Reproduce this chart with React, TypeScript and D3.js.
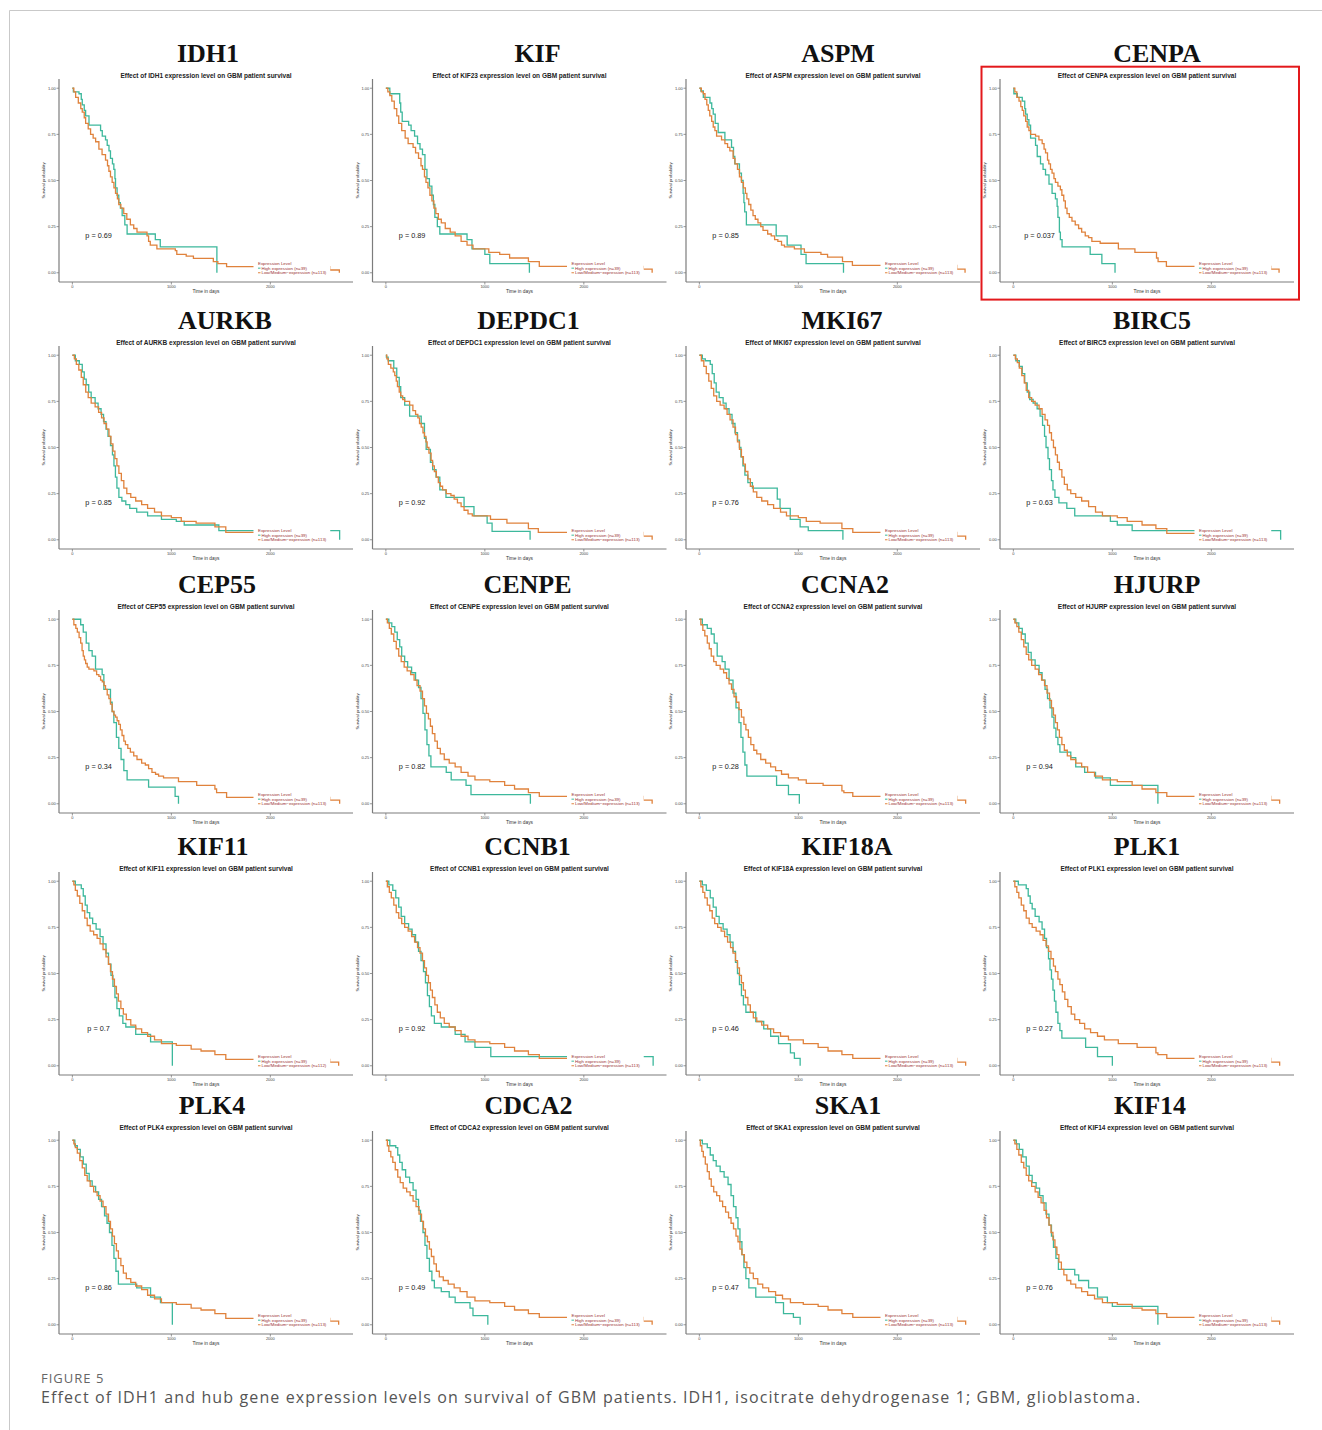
import * as d3 from 'd3';

// gene shown above each panel, and the gene named in the panel subtitle
const GENES = ['IDH1', 'KIF', 'ASPM', 'CENPA', 'AURKB', 'DEPDC1', 'MKI67', 'BIRC5', 'CEP55', 'CENPE', 'CCNA2', 'HJURP', 'KIF11', 'CCNB1', 'KIF18A', 'PLK1', 'PLK4', 'CDCA2', 'SKA1', 'KIF14'];
const SUBTITLE_GENES = ['IDH1', 'KIF23', 'ASPM', 'CENPA', 'AURKB', 'DEPDC1', 'MKI67', 'BIRC5', 'CEP55', 'CENPE', 'CCNA2', 'HJURP', 'KIF11', 'CCNB1', 'KIF18A', 'PLK1', 'PLK4', 'CDCA2', 'SKA1', 'KIF14'];
const P_VALUES = ['0.69', '0.89', '0.85', '0.037', '0.85', '0.92', '0.76', '0.63', '0.34', '0.82', '0.28', '0.94', '0.7', '0.92', '0.46', '0.27', '0.86', '0.49', '0.47', '0.76'];
const HIGH_N = [39, 39, 39, 39, 39, 39, 39, 39, 39, 39, 39, 39, 39, 39, 39, 39, 39, 39, 39, 39];
const LOW_N = [113, 113, 113, 113, 113, 113, 113, 113, 113, 113, 113, 113, 112, 113, 113, 113, 113, 113, 113, 113];

const X_TICKS = [0, 1000, 2000];
const Y_TICKS = [0, 0.25, 0.5, 0.75, 1];

// Kaplan-Meier steps: [day, survival from that day on]
const idh1High = [[0, 1], [10, 0.98], [67, 0.97], [90, 0.94], [100, 0.91], [120, 0.88], [134, 0.85], [168, 0.8], [285, 0.77], [302, 0.74], [335, 0.72], [352, 0.69], [370, 0.66], [385, 0.62], [405, 0.59], [419, 0.56], [430, 0.51], [436, 0.46], [452, 0.42], [469, 0.38], [485, 0.35], [503, 0.31], [530, 0.26], [553, 0.21], [838, 0.18], [888, 0.14], [1460, 0]];
const idh1Low = [[0, 1], [15, 0.98], [33, 0.95], [60, 0.92], [85, 0.89], [100, 0.87], [120, 0.84], [134, 0.81], [160, 0.78], [184, 0.75], [210, 0.73], [235, 0.71], [268, 0.67], [300, 0.64], [335, 0.61], [355, 0.58], [369, 0.55], [385, 0.52], [402, 0.49], [420, 0.46], [436, 0.43], [455, 0.4], [469, 0.37], [490, 0.35], [519, 0.32], [550, 0.29], [586, 0.26], [620, 0.24], [653, 0.22], [754, 0.2], [770, 0.17], [787, 0.15], [854, 0.13], [1040, 0.12], [1055, 0.1], [1150, 0.09], [1223, 0.078], [1424, 0.06], [1470, 0.05], [1558, 0.033], [2600, 0.015], [2697, 0]];

const kifHigh = [[0, 1], [40, 0.97], [130, 0.97], [140, 0.92], [150, 0.87], [165, 0.82], [230, 0.8], [255, 0.77], [290, 0.74], [320, 0.7], [345, 0.67], [370, 0.64], [395, 0.56], [415, 0.51], [440, 0.47], [465, 0.42], [480, 0.37], [495, 0.3], [520, 0.25], [545, 0.21], [800, 0.21], [820, 0.18], [870, 0.13], [1000, 0.1], [1050, 0.05], [1450, 0]];
const kifLow = [[0, 1], [20, 0.98], [40, 0.96], [60, 0.93], [85, 0.89], [110, 0.85], [130, 0.81], [160, 0.77], [195, 0.73], [225, 0.7], [275, 0.68], [300, 0.65], [330, 0.62], [355, 0.58], [370, 0.56], [390, 0.52], [405, 0.49], [425, 0.46], [445, 0.42], [465, 0.39], [485, 0.35], [505, 0.32], [530, 0.29], [560, 0.27], [600, 0.24], [650, 0.22], [700, 0.2], [760, 0.17], [820, 0.15], [880, 0.13], [1040, 0.11], [1150, 0.1], [1250, 0.08], [1440, 0.06], [1550, 0.035], [2600, 0.02], [2690, 0]];

const aspmHigh = [[0, 1], [15, 0.985], [40, 0.95], [107, 0.92], [125, 0.89], [140, 0.86], [160, 0.81], [190, 0.76], [258, 0.72], [325, 0.68], [345, 0.63], [358, 0.59], [405, 0.54], [425, 0.5], [442, 0.43], [450, 0.38], [458, 0.33], [475, 0.26], [776, 0.2], [887, 0.15], [1027, 0.1], [1078, 0.05], [1456, 0]];
const aspmLow = [[0, 1], [20, 0.98], [40, 0.97], [57, 0.94], [75, 0.91], [90, 0.88], [105, 0.85], [124, 0.82], [140, 0.79], [157, 0.77], [174, 0.74], [224, 0.72], [258, 0.7], [285, 0.68], [308, 0.66], [341, 0.62], [360, 0.59], [385, 0.56], [405, 0.52], [425, 0.49], [445, 0.46], [465, 0.43], [480, 0.4], [499, 0.37], [520, 0.34], [542, 0.31], [565, 0.29], [592, 0.27], [620, 0.25], [643, 0.23], [690, 0.21], [726, 0.2], [760, 0.18], [793, 0.17], [830, 0.15], [860, 0.14], [960, 0.13], [1061, 0.11], [1228, 0.1], [1295, 0.085], [1446, 0.06], [1546, 0.04], [2600, 0.02], [2684, 0]];

const cenpaHigh = [[0, 1], [5, 0.97], [40, 0.95], [90, 0.93], [115, 0.89], [124, 0.86], [140, 0.83], [157, 0.8], [174, 0.73], [224, 0.69], [241, 0.63], [274, 0.59], [300, 0.56], [325, 0.53], [360, 0.48], [391, 0.43], [425, 0.4], [442, 0.36], [450, 0.3], [465, 0.22], [475, 0.18], [492, 0.14], [776, 0.1], [894, 0.05], [1027, 0]];
const cenpaLow = [[0, 1], [15, 0.98], [35, 0.95], [57, 0.93], [75, 0.9], [90, 0.88], [105, 0.85], [124, 0.82], [140, 0.79], [157, 0.77], [174, 0.75], [224, 0.74], [258, 0.72], [291, 0.7], [310, 0.67], [325, 0.65], [345, 0.61], [358, 0.59], [375, 0.56], [391, 0.54], [410, 0.51], [425, 0.49], [450, 0.47], [475, 0.45], [490, 0.42], [509, 0.39], [525, 0.35], [542, 0.32], [565, 0.3], [592, 0.28], [625, 0.26], [659, 0.24], [690, 0.22], [726, 0.2], [760, 0.19], [793, 0.17], [877, 0.16], [1061, 0.13], [1228, 0.11], [1446, 0.08], [1462, 0.06], [1546, 0.035], [2600, 0.02], [2684, 0]];

const aurkbHigh = [[0, 1], [30, 0.97], [70, 0.95], [100, 0.91], [120, 0.87], [140, 0.84], [165, 0.8], [190, 0.77], [230, 0.74], [260, 0.71], [290, 0.68], [315, 0.64], [340, 0.6], [360, 0.56], [385, 0.51], [405, 0.46], [420, 0.4], [435, 0.34], [450, 0.28], [470, 0.23], [500, 0.21], [540, 0.19], [580, 0.17], [650, 0.15], [760, 0.13], [900, 0.11], [1050, 0.1], [1130, 0.08], [1480, 0.05], [2700, 0]];
const aurkbLow = [[0, 1], [20, 0.98], [40, 0.95], [65, 0.92], [90, 0.88], [110, 0.84], [135, 0.8], [160, 0.77], [190, 0.74], [230, 0.72], [265, 0.69], [295, 0.66], [320, 0.63], [345, 0.6], [370, 0.56], [390, 0.52], [410, 0.48], [430, 0.44], [450, 0.4], [470, 0.36], [495, 0.32], [520, 0.28], [550, 0.25], [590, 0.23], [640, 0.21], [700, 0.19], [760, 0.17], [830, 0.15], [900, 0.13], [1000, 0.12], [1100, 0.1], [1250, 0.09], [1440, 0.07], [1550, 0.04], [2400, 0]];

const depdc1High = [[0, 1], [5, 0.99], [23, 0.97], [80, 0.93], [110, 0.88], [135, 0.83], [150, 0.77], [190, 0.73], [240, 0.67], [357, 0.63], [390, 0.55], [407, 0.49], [450, 0.42], [473, 0.38], [507, 0.34], [545, 0.27], [607, 0.23], [790, 0.18], [890, 0.13], [1023, 0.09], [1073, 0.045], [1457, 0]];
const depdc1Low = [[0, 1], [10, 0.98], [25, 0.95], [50, 0.93], [75, 0.91], [90, 0.89], [105, 0.86], [117, 0.83], [135, 0.8], [150, 0.78], [170, 0.76], [190, 0.75], [240, 0.73], [273, 0.7], [300, 0.68], [323, 0.66], [340, 0.63], [357, 0.61], [375, 0.58], [390, 0.56], [405, 0.53], [417, 0.5], [435, 0.47], [457, 0.43], [472, 0.4], [490, 0.37], [510, 0.34], [530, 0.31], [550, 0.29], [573, 0.27], [610, 0.25], [657, 0.24], [690, 0.22], [723, 0.2], [760, 0.18], [790, 0.16], [830, 0.14], [873, 0.13], [1057, 0.11], [1223, 0.09], [1440, 0.06], [1540, 0.04], [2600, 0.02], [2690, 0]];

const mki67High = [[0, 1], [30, 0.98], [60, 0.97], [110, 0.95], [130, 0.9], [150, 0.85], [170, 0.8], [200, 0.77], [240, 0.74], [270, 0.71], [300, 0.68], [330, 0.63], [360, 0.58], [385, 0.54], [405, 0.5], [420, 0.45], [440, 0.4], [460, 0.35], [490, 0.31], [536, 0.28], [787, 0.22], [815, 0.17], [918, 0.11], [1018, 0.07], [1100, 0.05], [1450, 0]];
const mki67Low = [[0, 1], [20, 0.97], [45, 0.94], [70, 0.9], [95, 0.86], [120, 0.82], [145, 0.78], [175, 0.75], [210, 0.73], [250, 0.71], [280, 0.68], [310, 0.65], [340, 0.61], [365, 0.57], [385, 0.53], [405, 0.49], [425, 0.45], [445, 0.41], [465, 0.37], [490, 0.33], [515, 0.29], [545, 0.26], [580, 0.23], [630, 0.21], [690, 0.19], [750, 0.17], [820, 0.15], [880, 0.13], [1000, 0.12], [1080, 0.1], [1220, 0.09], [1440, 0.06], [1550, 0.04], [2600, 0.02], [2690, 0]];

const birc5High = [[0, 1], [25, 0.97], [60, 0.94], [90, 0.9], [115, 0.85], [140, 0.8], [165, 0.76], [200, 0.74], [240, 0.71], [270, 0.67], [295, 0.62], [315, 0.56], [330, 0.5], [350, 0.44], [365, 0.38], [385, 0.32], [400, 0.27], [420, 0.23], [460, 0.2], [540, 0.17], [620, 0.13], [980, 0.1], [1050, 0.08], [1200, 0.05], [2700, 0]];
const birc5Low = [[0, 1], [20, 0.98], [40, 0.96], [60, 0.93], [85, 0.89], [110, 0.85], [130, 0.81], [155, 0.77], [185, 0.75], [220, 0.73], [260, 0.71], [290, 0.68], [320, 0.65], [345, 0.62], [365, 0.58], [385, 0.54], [405, 0.5], [425, 0.46], [445, 0.42], [465, 0.38], [490, 0.34], [515, 0.3], [545, 0.27], [580, 0.25], [630, 0.23], [690, 0.21], [760, 0.18], [830, 0.15], [900, 0.13], [1050, 0.12], [1150, 0.1], [1300, 0.08], [1440, 0.06], [1550, 0.035], [2450, 0]];

const cep55High = [[0, 1], [84, 0.97], [110, 0.93], [140, 0.87], [167, 0.83], [200, 0.8], [234, 0.73], [301, 0.7], [318, 0.62], [385, 0.55], [402, 0.5], [419, 0.44], [445, 0.36], [469, 0.3], [492, 0.24], [520, 0.18], [553, 0.13], [770, 0.09], [1038, 0.04], [1072, 0]];
const cep55Low = [[0, 1], [15, 0.97], [35, 0.95], [50, 0.93], [68, 0.9], [84, 0.87], [98, 0.83], [110, 0.8], [122, 0.78], [134, 0.76], [150, 0.74], [167, 0.73], [218, 0.72], [245, 0.7], [268, 0.69], [285, 0.67], [302, 0.66], [320, 0.64], [335, 0.62], [352, 0.59], [369, 0.57], [385, 0.54], [402, 0.5], [420, 0.48], [436, 0.47], [452, 0.45], [469, 0.43], [485, 0.4], [502, 0.37], [520, 0.34], [536, 0.32], [560, 0.3], [586, 0.28], [620, 0.26], [653, 0.24], [700, 0.22], [737, 0.21], [770, 0.19], [804, 0.17], [840, 0.16], [871, 0.15], [921, 0.14], [1072, 0.12], [1256, 0.1], [1440, 0.08], [1457, 0.06], [1558, 0.035], [2600, 0.02], [2700, 0]];

const cenpeHigh = [[0, 1], [30, 0.98], [60, 0.96], [90, 0.93], [115, 0.89], [140, 0.85], [160, 0.8], [190, 0.77], [220, 0.74], [260, 0.71], [300, 0.67], [330, 0.63], [355, 0.57], [375, 0.49], [395, 0.4], [415, 0.32], [435, 0.26], [455, 0.2], [610, 0.17], [660, 0.13], [810, 0.1], [860, 0.05], [1460, 0]];
const cenpeLow = [[0, 1], [15, 0.98], [35, 0.95], [55, 0.92], [80, 0.88], [105, 0.84], [130, 0.8], [155, 0.77], [185, 0.74], [215, 0.72], [250, 0.7], [285, 0.67], [315, 0.64], [345, 0.61], [370, 0.57], [390, 0.53], [410, 0.49], [430, 0.46], [450, 0.42], [470, 0.38], [495, 0.34], [520, 0.3], [550, 0.27], [590, 0.24], [640, 0.22], [700, 0.2], [760, 0.17], [830, 0.15], [900, 0.13], [1050, 0.12], [1200, 0.1], [1300, 0.08], [1440, 0.06], [1550, 0.04], [2600, 0.02], [2690, 0]];

const ccna2High = [[0, 1], [30, 0.97], [80, 0.95], [120, 0.92], [150, 0.87], [180, 0.8], [230, 0.77], [260, 0.73], [300, 0.67], [340, 0.6], [370, 0.52], [400, 0.44], [420, 0.36], [440, 0.28], [460, 0.21], [480, 0.15], [780, 0.1], [900, 0.05], [1010, 0]];
const ccna2Low = [[0, 1], [15, 0.97], [35, 0.94], [55, 0.91], [80, 0.87], [100, 0.84], [120, 0.8], [145, 0.77], [170, 0.75], [210, 0.73], [245, 0.71], [275, 0.68], [300, 0.65], [325, 0.62], [350, 0.58], [375, 0.55], [400, 0.51], [425, 0.47], [450, 0.43], [470, 0.4], [495, 0.36], [520, 0.32], [550, 0.29], [580, 0.27], [620, 0.24], [670, 0.22], [720, 0.2], [770, 0.18], [830, 0.16], [900, 0.14], [1000, 0.13], [1080, 0.11], [1250, 0.1], [1440, 0.07], [1460, 0.06], [1550, 0.04], [2600, 0.02], [2690, 0]];

const hjurpHigh = [[0, 1], [25, 0.98], [55, 0.95], [90, 0.92], [120, 0.87], [150, 0.82], [180, 0.78], [220, 0.75], [260, 0.71], [290, 0.67], [320, 0.62], [345, 0.57], [370, 0.52], [390, 0.47], [410, 0.41], [430, 0.36], [450, 0.32], [470, 0.28], [580, 0.25], [630, 0.2], [720, 0.17], [830, 0.14], [980, 0.1], [1460, 0]];
const hjurpLow = [[0, 1], [15, 0.98], [35, 0.96], [55, 0.93], [80, 0.89], [105, 0.85], [130, 0.81], [155, 0.78], [185, 0.75], [220, 0.73], [255, 0.7], [285, 0.67], [315, 0.64], [340, 0.6], [365, 0.56], [385, 0.52], [405, 0.48], [425, 0.44], [445, 0.4], [465, 0.36], [490, 0.32], [515, 0.29], [545, 0.26], [580, 0.24], [630, 0.22], [690, 0.2], [750, 0.17], [820, 0.15], [900, 0.13], [1050, 0.12], [1200, 0.1], [1300, 0.08], [1440, 0.06], [1550, 0.04], [2600, 0.02], [2690, 0]];

const kif11High = [[0, 1], [30, 0.98], [90, 0.96], [110, 0.92], [130, 0.87], [150, 0.83], [175, 0.8], [205, 0.77], [240, 0.74], [280, 0.7], [310, 0.66], [340, 0.61], [365, 0.55], [390, 0.49], [410, 0.43], [430, 0.37], [450, 0.31], [475, 0.27], [510, 0.23], [540, 0.21], [640, 0.17], [790, 0.13], [1010, 0]];
const kif11Low = [[0, 1], [15, 0.98], [30, 0.95], [50, 0.92], [75, 0.88], [100, 0.84], [125, 0.8], [150, 0.76], [180, 0.73], [215, 0.71], [250, 0.69], [280, 0.66], [310, 0.63], [340, 0.59], [365, 0.55], [385, 0.51], [405, 0.47], [425, 0.43], [445, 0.39], [465, 0.35], [490, 0.31], [515, 0.28], [545, 0.25], [590, 0.22], [640, 0.2], [700, 0.18], [760, 0.16], [830, 0.14], [900, 0.12], [1050, 0.11], [1200, 0.09], [1300, 0.08], [1440, 0.06], [1550, 0.035], [2600, 0.02], [2690, 0]];

const ccnb1High = [[0, 1], [30, 0.98], [70, 0.95], [100, 0.91], [130, 0.86], [155, 0.81], [190, 0.77], [230, 0.74], [265, 0.71], [300, 0.67], [330, 0.62], [355, 0.57], [380, 0.51], [400, 0.45], [420, 0.38], [440, 0.32], [460, 0.27], [490, 0.23], [560, 0.21], [700, 0.17], [800, 0.13], [900, 0.1], [1060, 0.05], [2700, 0]];
const ccnb1Low = [[0, 1], [15, 0.97], [35, 0.94], [55, 0.91], [80, 0.87], [105, 0.83], [130, 0.8], [160, 0.77], [190, 0.75], [225, 0.73], [260, 0.7], [290, 0.67], [320, 0.64], [345, 0.61], [370, 0.57], [390, 0.53], [410, 0.49], [430, 0.45], [450, 0.41], [470, 0.37], [495, 0.33], [520, 0.29], [550, 0.26], [590, 0.23], [640, 0.21], [700, 0.19], [760, 0.16], [830, 0.14], [900, 0.13], [1050, 0.12], [1200, 0.1], [1300, 0.08], [1440, 0.06], [1550, 0.04], [2400, 0]];

const kif18aHigh = [[0, 1], [30, 0.98], [70, 0.95], [110, 0.91], [140, 0.86], [170, 0.81], [200, 0.77], [240, 0.74], [280, 0.71], [310, 0.67], [340, 0.62], [365, 0.56], [385, 0.5], [405, 0.44], [425, 0.38], [445, 0.33], [470, 0.29], [570, 0.24], [650, 0.2], [720, 0.16], [800, 0.12], [920, 0.07], [960, 0.04], [1018, 0]];
const kif18aLow = [[0, 1], [15, 0.97], [35, 0.94], [55, 0.91], [80, 0.87], [105, 0.84], [130, 0.8], [155, 0.77], [185, 0.75], [220, 0.73], [255, 0.7], [285, 0.67], [315, 0.64], [340, 0.61], [365, 0.57], [385, 0.53], [405, 0.49], [425, 0.45], [445, 0.41], [465, 0.37], [490, 0.33], [515, 0.29], [545, 0.26], [580, 0.24], [630, 0.22], [690, 0.2], [750, 0.18], [820, 0.16], [900, 0.14], [1050, 0.12], [1200, 0.1], [1300, 0.08], [1440, 0.06], [1550, 0.04], [2600, 0.02], [2690, 0]];

const plk1High = [[0, 1], [50, 0.98], [130, 0.96], [150, 0.92], [170, 0.88], [190, 0.85], [220, 0.81], [260, 0.78], [290, 0.74], [315, 0.69], [335, 0.64], [355, 0.58], [370, 0.52], [385, 0.47], [400, 0.41], [415, 0.35], [430, 0.29], [450, 0.23], [470, 0.19], [490, 0.15], [730, 0.1], [850, 0.05], [1000, 0]];
const plk1Low = [[0, 1], [15, 0.97], [35, 0.94], [55, 0.91], [80, 0.87], [105, 0.84], [130, 0.8], [160, 0.77], [190, 0.75], [230, 0.73], [270, 0.71], [300, 0.68], [330, 0.65], [355, 0.62], [380, 0.58], [405, 0.54], [425, 0.51], [450, 0.47], [470, 0.44], [495, 0.4], [520, 0.36], [550, 0.32], [585, 0.28], [620, 0.25], [670, 0.23], [720, 0.2], [780, 0.18], [850, 0.16], [920, 0.14], [1060, 0.12], [1250, 0.1], [1440, 0.07], [1460, 0.06], [1550, 0.04], [2600, 0.02], [2690, 0]];

const plk4High = [[0, 1], [25, 0.97], [50, 0.95], [80, 0.91], [110, 0.87], [140, 0.82], [170, 0.78], [200, 0.75], [235, 0.72], [265, 0.68], [295, 0.64], [325, 0.59], [350, 0.55], [375, 0.5], [400, 0.43], [420, 0.36], [440, 0.29], [465, 0.22], [650, 0.2], [790, 0.15], [890, 0.12], [1010, 0]];
const plk4Low = [[0, 1], [15, 0.98], [30, 0.96], [50, 0.93], [75, 0.89], [100, 0.85], [125, 0.81], [150, 0.78], [180, 0.75], [215, 0.72], [250, 0.7], [280, 0.67], [310, 0.64], [340, 0.6], [365, 0.56], [385, 0.52], [405, 0.48], [425, 0.44], [445, 0.4], [465, 0.36], [490, 0.32], [515, 0.28], [545, 0.25], [590, 0.23], [640, 0.21], [700, 0.19], [760, 0.16], [830, 0.14], [900, 0.12], [1050, 0.11], [1200, 0.09], [1300, 0.08], [1440, 0.06], [1550, 0.035], [2600, 0.02], [2690, 0]];

const cdca2High = [[0, 1], [40, 0.97], [100, 0.96], [120, 0.92], [140, 0.88], [165, 0.84], [200, 0.8], [240, 0.77], [275, 0.73], [305, 0.68], [330, 0.62], [350, 0.56], [375, 0.5], [395, 0.43], [415, 0.36], [440, 0.29], [465, 0.24], [490, 0.2], [560, 0.18], [640, 0.15], [700, 0.12], [850, 0.09], [880, 0.05], [1030, 0]];
const cdca2Low = [[0, 1], [15, 0.97], [30, 0.94], [50, 0.91], [70, 0.88], [95, 0.84], [120, 0.8], [145, 0.77], [175, 0.74], [210, 0.72], [245, 0.7], [275, 0.67], [305, 0.64], [335, 0.6], [360, 0.56], [380, 0.52], [400, 0.48], [420, 0.45], [440, 0.41], [460, 0.37], [485, 0.33], [510, 0.29], [540, 0.26], [580, 0.24], [630, 0.22], [690, 0.2], [750, 0.18], [820, 0.15], [900, 0.13], [1050, 0.12], [1200, 0.1], [1300, 0.08], [1440, 0.06], [1550, 0.04], [2600, 0.02], [2690, 0]];

const ska1High = [[0, 1], [30, 0.98], [80, 0.96], [110, 0.92], [140, 0.89], [170, 0.86], [210, 0.83], [250, 0.8], [290, 0.76], [320, 0.7], [345, 0.64], [370, 0.58], [390, 0.52], [410, 0.45], [430, 0.38], [450, 0.31], [470, 0.25], [500, 0.2], [570, 0.15], [770, 0.12], [850, 0.06], [950, 0.04], [1018, 0]];
const ska1Low = [[0, 1], [10, 0.97], [25, 0.94], [40, 0.91], [60, 0.87], [80, 0.83], [100, 0.79], [120, 0.75], [145, 0.72], [175, 0.7], [205, 0.67], [235, 0.64], [265, 0.61], [295, 0.58], [320, 0.55], [345, 0.52], [370, 0.48], [390, 0.45], [410, 0.41], [430, 0.38], [455, 0.34], [480, 0.31], [510, 0.28], [545, 0.25], [590, 0.22], [640, 0.2], [700, 0.18], [770, 0.16], [840, 0.14], [920, 0.12], [1050, 0.11], [1200, 0.1], [1300, 0.08], [1440, 0.06], [1550, 0.04], [2600, 0.02], [2690, 0]];

const kif14High = [[0, 1], [30, 0.98], [60, 0.95], [95, 0.91], [130, 0.86], [160, 0.81], [190, 0.77], [230, 0.74], [265, 0.7], [300, 0.66], [330, 0.6], [360, 0.54], [385, 0.48], [405, 0.42], [430, 0.36], [455, 0.3], [620, 0.27], [660, 0.24], [760, 0.2], [850, 0.15], [950, 0.12], [1000, 0.1], [1460, 0]];
const kif14Low = [[0, 1], [15, 0.98], [35, 0.95], [55, 0.92], [80, 0.88], [105, 0.85], [130, 0.81], [155, 0.78], [185, 0.75], [220, 0.72], [250, 0.69], [280, 0.66], [310, 0.62], [335, 0.58], [360, 0.54], [380, 0.5], [400, 0.46], [420, 0.42], [440, 0.38], [460, 0.34], [485, 0.3], [510, 0.27], [540, 0.24], [580, 0.22], [630, 0.2], [690, 0.18], [750, 0.16], [820, 0.14], [900, 0.12], [1050, 0.11], [1200, 0.09], [1300, 0.08], [1440, 0.06], [1550, 0.04], [2600, 0.02], [2690, 0]];

const HIGH_CURVES = [idh1High, kifHigh, aspmHigh, cenpaHigh, aurkbHigh, depdc1High, mki67High, birc5High, cep55High, cenpeHigh, ccna2High, hjurpHigh, kif11High, ccnb1High, kif18aHigh, plk1High, plk4High, cdca2High, ska1High, kif14High];
const LOW_CURVES = [idh1Low, kifLow, aspmLow, cenpaLow, aurkbLow, depdc1Low, mki67Low, birc5Low, cep55Low, cenpeLow, ccna2Low, hjurpLow, kif11Low, ccnb1Low, kif18aLow, plk1Low, plk4Low, cdca2Low, ska1Low, kif14Low];

// grid layout
const COL_X = [59, 372.5, 686, 1000];
const ROW_TOP = [79, 346, 610, 872, 1131];
const PW = 294;
const PH = 203;
// the big gene labels are not quite centred over their panels
const TITLE_SHIFT = [-7, 9, -4, 1, 10, 0, 0, -4, 2, -1, 3, 1, -2, -1, 5, -9, -3, 0, 6, -6];

const TEAL = '#3db89c';
const ORANGE = '#e0823c';
const AXIS = '#7c7c7c';
const LEGEND_RED = '#9b3232';
const SANS = "'Liberation Sans', Arial, sans-serif";

const x = d3.scaleLinear().domain([-135, 2835]).range([0, PW]);
const y = d3.scaleLinear().domain([-0.05, 1.05]).range([PH, 0]);
const step = d3.line<number[]>()
    .x(d => x(d[0]))
    .y(d => y(d[1]))
    .curve(d3.curveStepAfter);

function Panel({ i }: { i: number }) {
    const col = i % 4;
    const row = Math.floor(i / 4);
    const lx = x(1850);
    const keyX = x(1875);

    return (
        <g transform={`translate(${COL_X[col]},${ROW_TOP[row]})`}>
            <text x={156 + TITLE_SHIFT[i]} y={-17.5} textAnchor="middle" fontFamily="'Liberation Serif', 'Times New Roman', serif"
                fontWeight="bold" fontSize={26} fill="#111">{GENES[i]}</text>
            <text x={PW / 2} y={-1.5} textAnchor="middle" fontFamily={SANS} fontWeight="bold" fontSize={6.5} fill="#222">
                {`Effect of ${SUBTITLE_GENES[i]} expression level on GBM patient survival`}
            </text>

            <path d={step(HIGH_CURVES[i]) || ''} fill="none" stroke={TEAL} strokeWidth={1.3} />
            <path d={step(LOW_CURVES[i]) || ''} fill="none" stroke={ORANGE} strokeWidth={1.3} />

            {/* legend box sits over the tail of the curves */}
            <rect x={lx - 2} y={y(0.068)} width={x(2605) - lx + 2} height={y(-0.014) - y(0.068)} fill="#fff" />
            <g fontFamily={SANS} fontSize={4.4} fill={LEGEND_RED}>
                <text x={keyX} y={y(0.05)} dy="0.35em">Expression Level</text>
                <line x1={keyX} x2={keyX + 2.5} y1={y(0.025)} y2={y(0.025)} stroke={TEAL} strokeWidth={1} />
                <text x={keyX + 3.5} y={y(0.025)} dy="0.35em">{`High expression (n=${HIGH_N[i]})`}</text>
                <line x1={keyX} x2={keyX + 2.5} y1={y(0)} y2={y(0)} stroke={ORANGE} strokeWidth={1} />
                <text x={keyX + 3.5} y={y(0)} dy="0.35em">{`Low/Medium\u2212expression (n=${LOW_N[i]})`}</text>
            </g>

            <text x={x(265)} y={y(0.2)} dy="0.35em" textAnchor="middle" fontFamily={SANS} fontSize={7.3} fill="#222">
                {`p = ${P_VALUES[i]}`}
            </text>

            {/* axes */}
            <line x1={0} x2={0} y1={0} y2={PH} stroke={AXIS} strokeWidth={1.2} />
            <line x1={0} x2={PW} y1={PH} y2={PH} stroke={AXIS} strokeWidth={1.2} />
            {Y_TICKS.map(t => (
                <g key={t}>
                    <line x1={-2.5} x2={0} y1={y(t)} y2={y(t)} stroke={AXIS} strokeWidth={0.8} />
                    <text x={-3.3} y={y(t)} dy="0.35em" textAnchor="end" fontFamily={SANS} fontSize={4} fill="#444">
                        {d3.format('.2f')(t)}
                    </text>
                </g>
            ))}
            {X_TICKS.map(t => (
                <g key={t}>
                    <line x1={x(t)} x2={x(t)} y1={PH} y2={PH + 2.5} stroke={AXIS} strokeWidth={0.8} />
                    <text x={x(t)} y={PH + 4.5} dy="0.35em" textAnchor="middle" fontFamily={SANS} fontSize={4} fill="#444">{t}</text>
                </g>
            ))}
            <text transform={`translate(-14,${PH / 2}) rotate(-90)`} textAnchor="middle" fontFamily={SANS} fontSize={4.3} fill="#333">
                Survival probability
            </text>
            <text x={PW / 2} y={PH + 9} dy="0.35em" textAnchor="middle" fontFamily={SANS} fontSize={4.8} fill="#333">
                Time in days
            </text>
        </g>
    );
}

export default function App() {
    return (
        <svg width={1322} height={1430} viewBox="0 0 1322 1430"
            style={{ position: 'absolute', left: 0, top: 0, background: '#fff' }}>
            <rect width={1322} height={1430} fill="#fff" />
            <line x1={9.5} x2={1322} y1={10.5} y2={10.5} stroke="#c9c9c9" strokeWidth={1} />
            <line x1={9.5} x2={9.5} y1={10.5} y2={1430} stroke="#c9c9c9" strokeWidth={1} />

            {GENES.map((g, i) => <Panel key={g + i} i={i} />)}

            {/* highlight around CENPA */}
            <rect x={COL_X[3] - 18.5} y={ROW_TOP[0] - 12.3} width={PW + 23.5} height={PH + 29.9}
                fill="none" stroke="#e3191c" strokeWidth={2} />

            <text x={41} y={1383} fontFamily="'Open Sans', sans-serif" fontSize={13} letterSpacing={1} fill="#666">FIGURE 5</text>
            <text x={41} y={1403} fontFamily="'Open Sans', sans-serif" fontSize={16} letterSpacing={1.12} fill="#555">
                Effect of IDH1 and hub gene expression levels on survival of GBM patients. IDH1, isocitrate dehydrogenase 1; GBM, glioblastoma.
            </text>
        </svg>
    );
}
